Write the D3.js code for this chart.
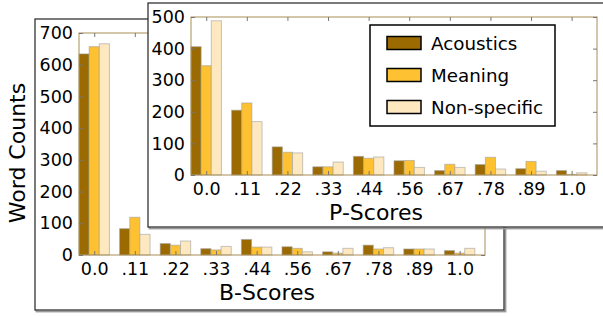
<!DOCTYPE html>
<html><head><meta charset="utf-8">
<script src="https://cdn.jsdelivr.net/npm/d3@7"></script>
<style>body{margin:0;background:#fff}svg{display:block;font-family:"DejaVu Sans",sans-serif}</style>
</head><body>
<svg id="c" width="603" height="316"></svg>
<script>
const categories = ["0.0",".11",".22",".33",".44",".56",".67",".78",".89","1.0"];
const seriesNames = ["Acoustics","Meaning","Non-specific"];
const colors = ["#9b6a00","#fdc131","#fee8bf"];
const bAcoustics = [634,83,36,20,49,26,10,31,19,14];
const bMeaning   = [657,119,31,16,25,21,6,19,19,6];
const bNonspec   = [666,65,44,27,25,10,21,23,19,21];
const pAcoustics = [406,205,89,26,59,45,14,33,20,14];
const pMeaning   = [346,228,72,26,53,46,34,56,43,2];
const pNonspec   = [488,169,70,41,57,24,24,19,12,7];
const bTicks = [0,100,200,300,400,500,600,700];
const pTicks = [0,100,200,300,400,500];

const svg = d3.select("#c");
const axisCol = "#a88d55";

function frame(x0,y0,x1,y1){
  svg.append("rect").attr("x",x0+1.5).attr("y",y0+1.5).attr("width",x1-x0).attr("height",y1-y0)
    .attr("fill","none").attr("stroke","#9a9a9a").attr("stroke-width",1.8);
  svg.append("rect").attr("x",x0).attr("y",y0).attr("width",x1-x0).attr("height",y1-y0)
    .attr("fill","#fff").attr("stroke","#333").attr("stroke-width",1.3);
}

function panel(cfg){
  const g = svg.append("g");
  const x = d3.scaleLinear().domain([0,categories.length]).range([cfg.left,cfg.right]);
  const y = d3.scaleLinear().domain([0,cfg.max]).range([cfg.bottom,cfg.top]);
  const bw = 0.25;
  cfg.series.forEach((vals,k)=>{
    g.selectAll(null).data(vals).enter().append("rect")
      .attr("x",(d,i)=>x(i+k*bw)).attr("width",x(bw)-x(0))
      .attr("y",d=>y(d)).attr("height",d=>y(0)-y(d))
      .attr("fill",colors[k]).attr("stroke","#a0a0a0").attr("stroke-opacity",0.6).attr("stroke-width",1);
  });
  g.append("rect").attr("x",cfg.left).attr("y",cfg.top).attr("width",cfg.right-cfg.left).attr("height",cfg.bottom-cfg.top)
    .attr("fill","none").attr("stroke",axisCol).attr("stroke-width",1);
  const ya = d3.axisLeft(y).tickValues(cfg.ticks).tickSizeInner(-4).tickSizeOuter(0).tickPadding(6).tickFormat(d3.format("d"));
  const yg = g.append("g").attr("transform",`translate(${cfg.left},0)`).call(ya);
  yg.select(".domain").remove();
  yg.selectAll("line").attr("stroke","#777");
  yg.selectAll("text").attr("font-size",17.5).attr("fill","#000").attr("font-family","DejaVu Sans");
  const yr = d3.axisRight(y).tickValues(cfg.ticks).tickSizeInner(-4).tickSizeOuter(0).tickFormat("");
  const yrg = g.append("g").attr("transform",`translate(${cfg.right},0)`).call(yr);
  yrg.select(".domain").remove(); yrg.selectAll("line").attr("stroke","#777");
  const xa = d3.axisBottom(x).tickValues(categories.map((c,i)=>i+0.375)).tickSizeInner(-4).tickSizeOuter(0).tickPadding(8)
    .tickFormat((d,i)=>categories[i]);
  const xg = g.append("g").attr("transform",`translate(0,${cfg.bottom})`).call(xa);
  xg.select(".domain").remove();
  xg.selectAll("line").attr("stroke","#777");
  xg.selectAll("text").attr("font-size",17.5).attr("fill","#000").attr("font-family","DejaVu Sans");
  const xt = d3.axisTop(x).tickValues(categories.map((c,i)=>i+0.375)).tickSizeInner(-4).tickSizeOuter(0).tickFormat("");
  const xtg = g.append("g").attr("transform",`translate(0,${cfg.top})`).call(xt);
  xtg.select(".domain").remove(); xtg.selectAll("line").attr("stroke","#777");
  g.append("text").attr("x",cfg.titleX).attr("y",cfg.titleY).attr("text-anchor","middle")
    .attr("font-size",22).text(cfg.title);
  return g;
}

frame(35,19,504,310);
panel({left:79,right:485,top:33,bottom:255,max:700,ticks:bTicks,
  series:[bAcoustics,bMeaning,bNonspec],title:"B-Scores",titleX:267,titleY:300});
svg.append("text").attr("transform","translate(25,153) rotate(-90)").attr("text-anchor","middle")
  .attr("font-size",22).text("Word Counts");

frame(148,3,612,227);
panel({left:191,right:597,top:17,bottom:175,max:500,ticks:pTicks,
  series:[pAcoustics,pMeaning,pNonspec],title:"P-Scores",titleX:376,titleY:220});

const lg = svg.append("g");
lg.append("rect").attr("x",370).attr("y",25).attr("width",185).attr("height",101)
  .attr("fill","#fff").attr("stroke","#000").attr("stroke-width",1.5);
seriesNames.forEach((n,k)=>{
  const cy = 43 + k*32;
  lg.append("rect").attr("x",387).attr("y",cy-6.5).attr("width",34).attr("height",13)
    .attr("fill",colors[k]).attr("stroke","#000").attr("stroke-width",1.5);
  lg.append("text").attr("x",431).attr("y",cy).attr("dy","0.36em").attr("font-size",18.3).text(n);
});
</script>
</body></html>
